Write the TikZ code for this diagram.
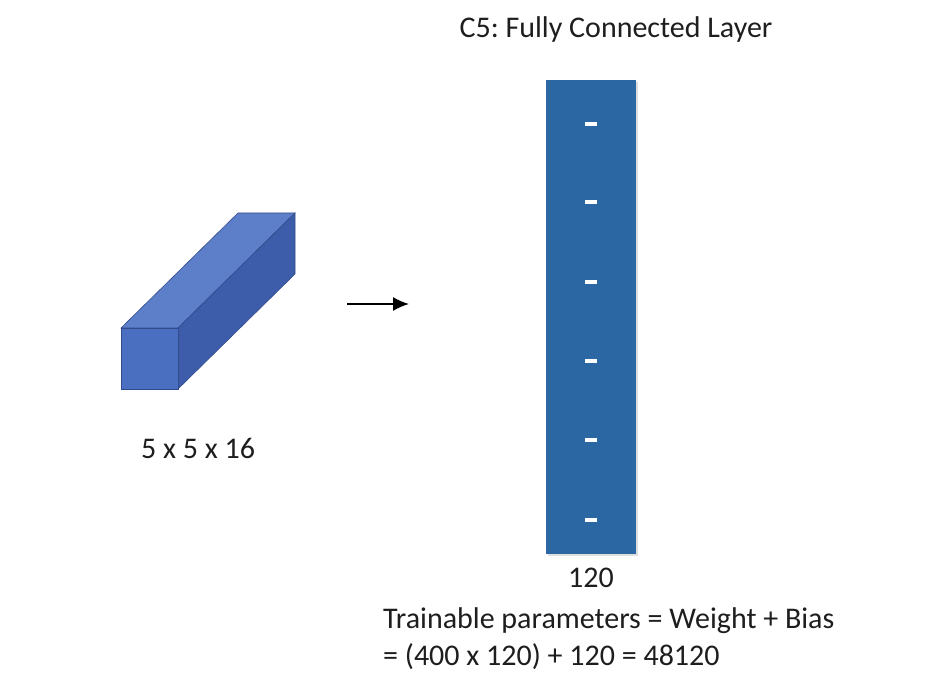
\documentclass[tikz,border=0pt]{standalone}
\usepackage{fontspec}
\usetikzlibrary{arrows.meta}
\setmainfont{Carlito}
\frenchspacing
\definecolor{barblue}{RGB}{43,104,163}
\definecolor{topface}{RGB}{93,127,202}
\definecolor{frontface}{RGB}{74,110,192}
\definecolor{sideface}{RGB}{61,93,170}
\definecolor{edgec}{RGB}{50,75,140}
\definecolor{txt}{RGB}{30,30,30}
\tikzset{
  lbl/.style={font=\fontsize{30}{34}\selectfont, text=txt, inner sep=0pt},
}
\begin{document}
\frenchspacing
\begin{tikzpicture}[x=1pt,y=-1pt]
\useasboundingbox (0,0) rectangle (944,684);
% cuboid
\coordinate (f1) at (121,328);
\coordinate (f2) at (178,328);
\coordinate (f3) at (178,389);
\coordinate (f4) at (121,389);
\coordinate (b1) at (238,213);
\coordinate (b2) at (295,213);
\coordinate (b3) at (295,274);
\fill[topface, draw=edgec, line width=0.6pt] (f1) -- (f2) -- (b2) -- (b1) -- cycle;
\fill[sideface, draw=edgec, line width=0.6pt] (f2) -- (b2) -- (b3) -- (f3) -- cycle;
\fill[frontface, draw=edgec, line width=0.6pt] (f1) -- (f2) -- (f3) -- (f4) -- cycle;
\node[lbl] (dim) at (198,448) {5 x 5 x 16};
% arrow
\coordinate (a1) at (347,304);
\coordinate (a2) at (409,304);
\draw[line width=1.6pt, -{Latex[length=16pt,width=14pt]}] (a1) -- (a2);
% bar
\fill[black!25, opacity=0.5] (548,82) rectangle (638,556);
\node[fill=barblue, minimum width=90pt, minimum height=474pt, inner sep=0pt, anchor=north west] (bar) at (546,80) {};
\foreach \yy in {124,202,282,361,440,520} {
  \fill[white] (585,\yy-1.6) rectangle (597,\yy+1.6);
}
\node[lbl] (title) at (616,30) {C5: Fully Connected Layer};
\node[lbl] (n120) at (591,578) {120};
\node[lbl, anchor=west] (tp1) at (383,621) {Trainable parameters = Weight + Bias};
\node[lbl, anchor=west] (tp2) at (383,657) {= (400 x 120) + 120 = 48120};
\end{tikzpicture}
\end{document}
